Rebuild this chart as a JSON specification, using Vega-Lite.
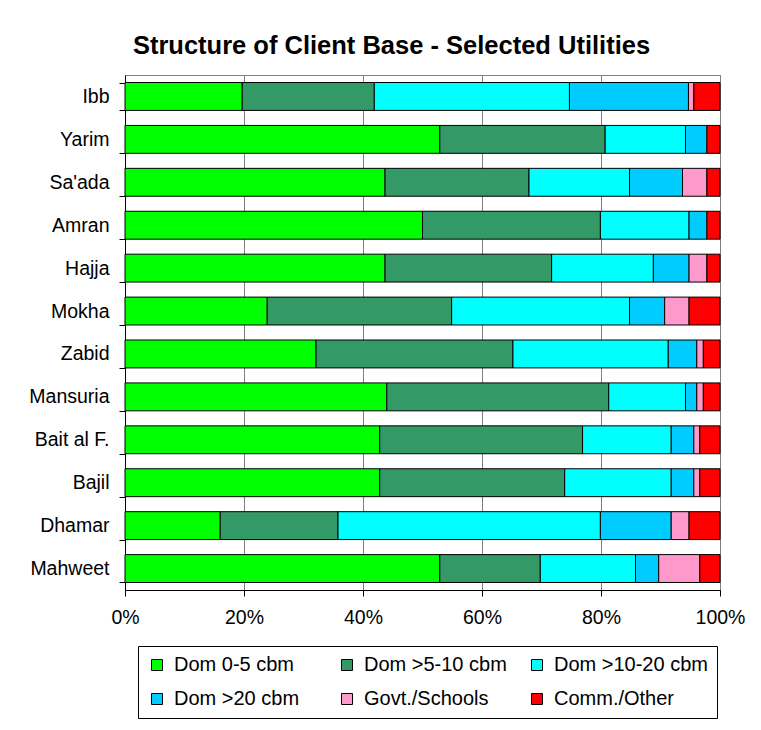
{
  "$schema": "https://vega.github.io/schema/vega-lite/v6.json",
  "width": 595,
  "height": 515,
  "autosize": {"type": "none"},
  "padding": {"left": 125, "top": 75, "right": 41, "bottom": 140},
  "background": "white",
  "title": {
    "text": "Structure of Client Base - Selected Utilities",
    "font": "Liberation Sans",
    "fontSize": 25.5,
    "fontWeight": "bold",
    "color": "black",
    "anchor": "middle",
    "dx": -31,
    "offset": 6
  },
  "data": {
    "values": [
      {"city": "Ibb", "cat": "Dom 0-5 cbm", "k": 1, "v": 19.7},
      {"city": "Ibb", "cat": "Dom >5-10 cbm", "k": 2, "v": 22.2},
      {"city": "Ibb", "cat": "Dom >10-20 cbm", "k": 3, "v": 32.8},
      {"city": "Ibb", "cat": "Dom >20 cbm", "k": 4, "v": 20.0},
      {"city": "Ibb", "cat": "Govt./Schools", "k": 5, "v": 0.9},
      {"city": "Ibb", "cat": "Comm./Other", "k": 6, "v": 4.4},
      {"city": "Yarim", "cat": "Dom 0-5 cbm", "k": 1, "v": 52.9},
      {"city": "Yarim", "cat": "Dom >5-10 cbm", "k": 2, "v": 27.8},
      {"city": "Yarim", "cat": "Dom >10-20 cbm", "k": 3, "v": 13.5},
      {"city": "Yarim", "cat": "Dom >20 cbm", "k": 4, "v": 3.6},
      {"city": "Yarim", "cat": "Comm./Other", "k": 6, "v": 2.2},
      {"city": "Sa'ada", "cat": "Dom 0-5 cbm", "k": 1, "v": 43.7},
      {"city": "Sa'ada", "cat": "Dom >5-10 cbm", "k": 2, "v": 24.2},
      {"city": "Sa'ada", "cat": "Dom >10-20 cbm", "k": 3, "v": 16.9},
      {"city": "Sa'ada", "cat": "Dom >20 cbm", "k": 4, "v": 8.9},
      {"city": "Sa'ada", "cat": "Govt./Schools", "k": 5, "v": 4.1},
      {"city": "Sa'ada", "cat": "Comm./Other", "k": 6, "v": 2.2},
      {"city": "Amran", "cat": "Dom 0-5 cbm", "k": 1, "v": 50.0},
      {"city": "Amran", "cat": "Dom >5-10 cbm", "k": 2, "v": 29.9},
      {"city": "Amran", "cat": "Dom >10-20 cbm", "k": 3, "v": 14.9},
      {"city": "Amran", "cat": "Dom >20 cbm", "k": 4, "v": 3.0},
      {"city": "Amran", "cat": "Comm./Other", "k": 6, "v": 2.2},
      {"city": "Hajja", "cat": "Dom 0-5 cbm", "k": 1, "v": 43.7},
      {"city": "Hajja", "cat": "Dom >5-10 cbm", "k": 2, "v": 28.0},
      {"city": "Hajja", "cat": "Dom >10-20 cbm", "k": 3, "v": 17.1},
      {"city": "Hajja", "cat": "Dom >20 cbm", "k": 4, "v": 6.0},
      {"city": "Hajja", "cat": "Govt./Schools", "k": 5, "v": 3.0},
      {"city": "Hajja", "cat": "Comm./Other", "k": 6, "v": 2.2},
      {"city": "Mokha", "cat": "Dom 0-5 cbm", "k": 1, "v": 23.9},
      {"city": "Mokha", "cat": "Dom >5-10 cbm", "k": 2, "v": 31.0},
      {"city": "Mokha", "cat": "Dom >10-20 cbm", "k": 3, "v": 29.9},
      {"city": "Mokha", "cat": "Dom >20 cbm", "k": 4, "v": 5.9},
      {"city": "Mokha", "cat": "Govt./Schools", "k": 5, "v": 4.1},
      {"city": "Mokha", "cat": "Comm./Other", "k": 6, "v": 5.2},
      {"city": "Zabid", "cat": "Dom 0-5 cbm", "k": 1, "v": 32.1},
      {"city": "Zabid", "cat": "Dom >5-10 cbm", "k": 2, "v": 33.1},
      {"city": "Zabid", "cat": "Dom >10-20 cbm", "k": 3, "v": 26.1},
      {"city": "Zabid", "cat": "Dom >20 cbm", "k": 4, "v": 4.8},
      {"city": "Zabid", "cat": "Govt./Schools", "k": 5, "v": 1.1},
      {"city": "Zabid", "cat": "Comm./Other", "k": 6, "v": 2.8},
      {"city": "Mansuria", "cat": "Dom 0-5 cbm", "k": 1, "v": 44.0},
      {"city": "Mansuria", "cat": "Dom >5-10 cbm", "k": 2, "v": 37.3},
      {"city": "Mansuria", "cat": "Dom >10-20 cbm", "k": 3, "v": 12.9},
      {"city": "Mansuria", "cat": "Dom >20 cbm", "k": 4, "v": 1.9},
      {"city": "Mansuria", "cat": "Govt./Schools", "k": 5, "v": 1.1},
      {"city": "Mansuria", "cat": "Comm./Other", "k": 6, "v": 2.8},
      {"city": "Bait al F.", "cat": "Dom 0-5 cbm", "k": 1, "v": 42.8},
      {"city": "Bait al F.", "cat": "Dom >5-10 cbm", "k": 2, "v": 34.1},
      {"city": "Bait al F.", "cat": "Dom >10-20 cbm", "k": 3, "v": 14.9},
      {"city": "Bait al F.", "cat": "Dom >20 cbm", "k": 4, "v": 3.8},
      {"city": "Bait al F.", "cat": "Govt./Schools", "k": 5, "v": 1.0},
      {"city": "Bait al F.", "cat": "Comm./Other", "k": 6, "v": 3.4},
      {"city": "Bajil", "cat": "Dom 0-5 cbm", "k": 1, "v": 42.8},
      {"city": "Bajil", "cat": "Dom >5-10 cbm", "k": 2, "v": 31.1},
      {"city": "Bajil", "cat": "Dom >10-20 cbm", "k": 3, "v": 17.9},
      {"city": "Bajil", "cat": "Dom >20 cbm", "k": 4, "v": 3.8},
      {"city": "Bajil", "cat": "Govt./Schools", "k": 5, "v": 1.0},
      {"city": "Bajil", "cat": "Comm./Other", "k": 6, "v": 3.4},
      {"city": "Dhamar", "cat": "Dom 0-5 cbm", "k": 1, "v": 16.0},
      {"city": "Dhamar", "cat": "Dom >5-10 cbm", "k": 2, "v": 19.8},
      {"city": "Dhamar", "cat": "Dom >10-20 cbm", "k": 3, "v": 44.1},
      {"city": "Dhamar", "cat": "Dom >20 cbm", "k": 4, "v": 11.9},
      {"city": "Dhamar", "cat": "Govt./Schools", "k": 5, "v": 3.0},
      {"city": "Dhamar", "cat": "Comm./Other", "k": 6, "v": 5.2},
      {"city": "Mahweet", "cat": "Dom 0-5 cbm", "k": 1, "v": 52.9},
      {"city": "Mahweet", "cat": "Dom >5-10 cbm", "k": 2, "v": 16.9},
      {"city": "Mahweet", "cat": "Dom >10-20 cbm", "k": 3, "v": 16.0},
      {"city": "Mahweet", "cat": "Dom >20 cbm", "k": 4, "v": 3.9},
      {"city": "Mahweet", "cat": "Govt./Schools", "k": 5, "v": 6.9},
      {"city": "Mahweet", "cat": "Comm./Other", "k": 6, "v": 3.4}
    ]
  },
  "mark": {"type": "bar", "stroke": "black", "strokeWidth": 1},
  "encoding": {
    "y": {
      "field": "city",
      "type": "nominal",
      "sort": ["Ibb", "Yarim", "Sa'ada", "Amran", "Hajja", "Mokha", "Zabid", "Mansuria", "Bait al F.", "Bajil", "Dhamar", "Mahweet"],
      "scale": {"paddingInner": 0.35, "paddingOuter": 0.175},
      "axis": {
        "title": null,
        "tickBand": "extent",
        "tickSize": 6,
        "tickColor": "black",
        "domainColor": "black",
        "labelFontSize": 19.5,
        "labelColor": "black",
        "labelPadding": 10,
        "grid": false
      }
    },
    "x": {
      "field": "v",
      "type": "quantitative",
      "stack": "normalize",
      "scale": {"domain": [0, 1]},
      "axis": {
        "title": null,
        "format": "%",
        "values": [0, 0.2, 0.4, 0.6, 0.8, 1],
        "tickSize": 6,
        "tickColor": "black",
        "domainColor": "black",
        "labelFontSize": 19.5,
        "labelColor": "black",
        "labelPadding": 12,
        "grid": true,
        "gridColor": "#808080",
        "gridOpacity": 1,
        "labelFlush": false
      }
    },
    "order": {"field": "k", "type": "quantitative", "sort": "ascending"},
    "color": {
      "field": "cat",
      "type": "nominal",
      "sort": ["Dom 0-5 cbm", "Dom >5-10 cbm", "Dom >10-20 cbm", "Dom >20 cbm", "Govt./Schools", "Comm./Other"],
      "scale": {
        "domain": ["Dom 0-5 cbm", "Dom >5-10 cbm", "Dom >10-20 cbm", "Dom >20 cbm", "Govt./Schools", "Comm./Other"],
        "range": ["#00FF00", "#339966", "#00FFFF", "#00CCFF", "#FF99CC", "#FF0000"]
      },
      "legend": {
        "title": null,
        "orient": "none",
        "legendX": 13,
        "legendY": 571,
        "direction": "horizontal",
        "columns": 3,
        "gridAlign": "all",
        "columnPadding": 9,
        "rowPadding": 14,
        "padding": 9,
        "strokeColor": "black",
        "fillColor": "white",
        "symbolType": "square",
        "symbolSize": 121,
        "symbolStrokeColor": "black",
        "symbolStrokeWidth": 1,
        "symbolOpacity": 1,
        "labelFontSize": 20,
        "labelColor": "black",
        "labelOffset": 7,
        "labelLimit": 300
      }
    }
  },
  "config": {
    "font": "Liberation Sans",
    "view": {"stroke": "#808080"},
    "axis": {"labelFont": "Liberation Sans"},
    "legend": {"labelFont": "Liberation Sans"}
  }
}
